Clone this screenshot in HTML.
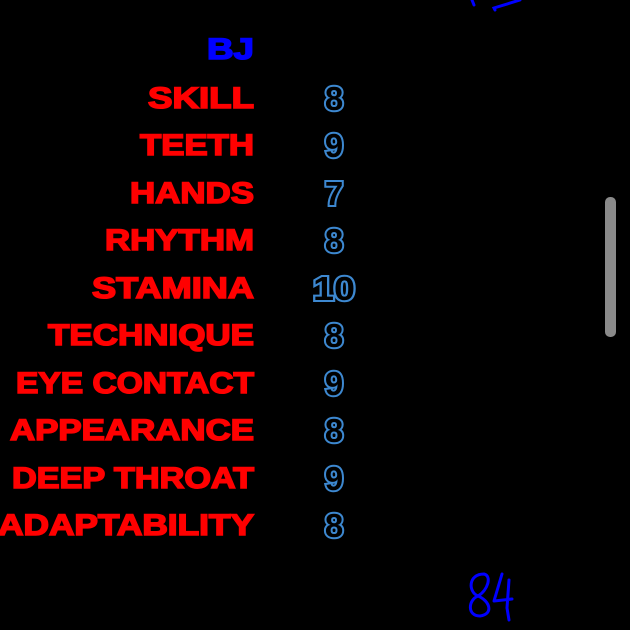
<!DOCTYPE html>
<html><head><meta charset="utf-8"><style>
html,body{margin:0;padding:0;background:#000;width:630px;height:630px;overflow:hidden}
svg{display:block}
.l{font-family:"Liberation Sans",sans-serif;font-weight:bold;font-size:30px;fill:#ff0000;stroke:#ff0000;stroke-width:1.6px}
.n{font-family:"Liberation Sans",sans-serif;font-weight:bold;font-size:33px;fill:#000;stroke:#3d88d0;stroke-width:4px;paint-order:stroke;text-anchor:middle}
</style></head><body>
<svg width="630" height="630" viewBox="0 0 630 630">
<rect width="630" height="630" fill="#000"/>
<text class="l" x="207" y="59" textLength="47" lengthAdjust="spacingAndGlyphs" style="fill:#0000ff;stroke:#0000ff">BJ</text>
<text class="l" x="148" y="108" textLength="106" lengthAdjust="spacingAndGlyphs">SKILL</text>
<text class="l" x="140" y="155" textLength="114" lengthAdjust="spacingAndGlyphs">TEETH</text>
<text class="l" x="130" y="203" textLength="124" lengthAdjust="spacingAndGlyphs">HANDS</text>
<text class="l" x="105" y="250" textLength="149" lengthAdjust="spacingAndGlyphs">RHYTHM</text>
<text class="l" x="92" y="298" textLength="162" lengthAdjust="spacingAndGlyphs">STAMINA</text>
<text class="l" x="48" y="345" textLength="206" lengthAdjust="spacingAndGlyphs">TECHNIQUE</text>
<text class="l" x="16" y="393" textLength="238" lengthAdjust="spacingAndGlyphs">EYE CONTACT</text>
<text class="l" x="10" y="440" textLength="244" lengthAdjust="spacingAndGlyphs">APPEARANCE</text>
<text class="l" x="12" y="488" textLength="242" lengthAdjust="spacingAndGlyphs">DEEP THROAT</text>
<text class="l" x="-2" y="535" textLength="256" lengthAdjust="spacingAndGlyphs">ADAPTABILITY</text>
<g>
<text class="n" x="334" y="110">8</text>
<text class="n" x="334" y="157">9</text>
<text class="n" x="334" y="205">7</text>
<text class="n" x="334" y="252">8</text>
<text class="n" x="334" y="300" textLength="42" lengthAdjust="spacingAndGlyphs">10</text>
<text class="n" x="334" y="347">8</text>
<text class="n" x="334" y="395">9</text>
<text class="n" x="334" y="442">8</text>
<text class="n" x="334" y="490">9</text>
<text class="n" x="334" y="537">8</text>
</g>
<path d="M472 0 L474 5 M495 10 L494 8 L520 0" stroke="#0000ff" stroke-width="3" fill="none" stroke-linecap="round"/>
<path d="M484 574 C468 574 468 592 478 596 C490 601 494 614 480 616 C467 616 468 600 478 596 C488 590 492 576 484 574 Z" stroke="#0000ff" stroke-width="3" fill="none"/>
<path d="M502 574 L494 601 L512 599 M509 580 L507 608 L509 620" stroke="#0000ff" stroke-width="3" fill="none" stroke-linecap="round" stroke-linejoin="round"/>
<rect x="605" y="197" width="11" height="140" rx="5" fill="#8a8a8a"/>
</svg>
</body></html>
